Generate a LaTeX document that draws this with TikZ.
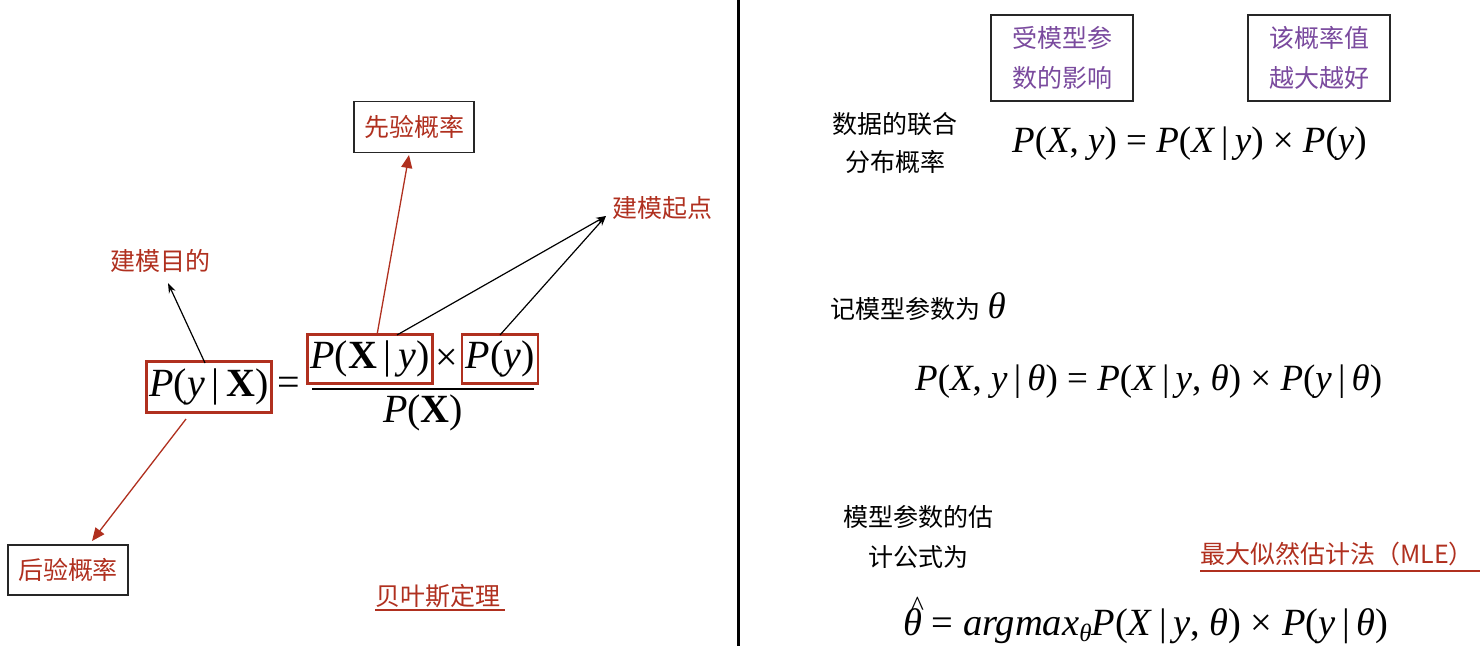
\documentclass[tikz,border=0pt]{standalone}
\usepackage{fontspec}
\setmainfont{Liberation Serif}
\newfontfamily\cjk{Noto Sans CJK SC}
\usetikzlibrary{arrows.meta}
\definecolor{sred}{HTML}{B0301F}
\definecolor{spurple}{HTML}{7A4A9E}
\newcommand{\fsz}[1]{\fontsize{#1}{\dimexpr #1pt*5/4\relax}\selectfont}
\tikzset{
  cjklabel/.style={font=\cjk\fsz{25}, inner sep=0pt},
  redlabel/.style={cjklabel, text=sred},
  sketchbox/.style={draw=black!85, line width=1.8pt},
  formbox/.style={draw=sred, line width=2.2pt, inner xsep=3pt, inner ysep=3pt},
  mathtxt/.style={font=\fsz{40}, inner sep=0pt},
  rmath/.style={font=\fsz{37}, inner sep=0pt, anchor=base west},
  blackarrow/.style={-{Stealth[length=10pt,width=7pt]}, line width=1.2pt, black},
  redarrow/.style={-{Triangle[length=13pt,width=11pt]}, line width=1.3pt, sred},
  uline/.style={draw=sred, line width=1.4pt}
}
\begin{document}
\begin{tikzpicture}[x=1pt,y=-1pt]
\useasboundingbox (0,0) rectangle (1484,646);
\fill[white] (0,0) rectangle (1484,646);
% divider
\draw[line width=3pt] (738,0) -- (738,646);

% ---- left: Bayes formula ----
\node[mathtxt, formbox, minimum width=122pt, minimum height=51pt] (pyx) at (209,387) {\textit{P}(\textit{y}\,|\,\textbf{X})};
\node[mathtxt] (eq) at (289,386) {=};
\node[mathtxt, formbox, minimum width=121pt, minimum height=49pt] (num1) at (370,359) {\textit{P}(\textbf{X}\,|\,\textit{y})};
\node[mathtxt] (times) at (447,360) {×};
\node[mathtxt, formbox, minimum width=76pt, minimum height=49pt] (num2) at (500,359) {\textit{P}(\textit{y})};
\coordinate (fracL) at (312,389);
\coordinate (fracR) at (534,389);
\draw[line width=2.2pt] (fracL) -- (fracR);
\node[mathtxt] (den) at (423,413) {\textit{P}(\textbf{X})};

\node[redlabel, sketchbox, minimum width=120pt, minimum height=51pt] (prior) at (414,127) {先验概率};
\node[redlabel, sketchbox, minimum width=120pt, minimum height=50pt] (post) at (68,570) {后验概率};
\node[redlabel] (goal) at (160,261) {建模目的};
\node[redlabel] (start) at (662,208) {建模起点};
\node[redlabel] (bayes) at (438,596) {贝叶斯定理};
\coordinate (bayesL) at (375,610);
\coordinate (bayesR) at (505,610);
\draw[uline] (bayesL) -- (bayesR);

\coordinate (a1) at (205,363);
\coordinate (g1) at (168,283);
\draw[blackarrow] (a1) -- (g1);
\coordinate (p1) at (186,419);
\coordinate (p2) at (92,541);
\draw[redarrow] (p1) -- (p2);
\coordinate (n1) at (377,335);
\coordinate (q1) at (409,155);
\draw[redarrow] (n1) -- (q1);
\coordinate (n2) at (397,335);
\coordinate (n3) at (500,335);
\coordinate (s1) at (606,216);
\draw[blackarrow] (n2) -- (s1);
\draw[blackarrow] (n3) -- (s1);

% ---- right ----
\node[cjklabel, sketchbox, text=spurple, align=center, minimum width=142pt, minimum height=86pt] (inf) at (1062,58) {受模型参\\[8pt]数的影响};
\node[cjklabel, sketchbox, text=spurple, align=center, minimum width=142pt, minimum height=86pt] (big) at (1319,58) {该概率值\\[8pt]越大越好};

\node[cjklabel, align=center] (joint) at (895,143) {数据的联合\\[6pt]分布概率};
\node[rmath] (f1) at (1012,152) {\textit{P}(\textit{X}, \textit{y}) = \textit{P}(\textit{X}\,|\,\textit{y}) × \textit{P}(\textit{y})};

\node[cjklabel, anchor=west] (note) at (830,307) {记模型参数为\hspace{0.3em}{\rmfamily\fsz{37}\textit{θ}}};
\node[rmath] (f2) at (915,390) {\textit{P}(\textit{X}, \textit{y}\,|\,\textit{θ}) = \textit{P}(\textit{X}\,|\,\textit{y}, \textit{θ}) × \textit{P}(\textit{y}\,|\,\textit{θ})};

\node[cjklabel, align=center] (est) at (918,537) {模型参数的估\\[9pt]计公式为};
\node[redlabel, anchor=west] (mle) at (1200,554) {最大似然估计法（MLE）};
\coordinate (mleL) at (1200,571);
\coordinate (mleR) at (1480,571);
\draw[uline] (mleL) -- (mleR);
\node[rmath, font=\fsz{38.5}] (f3) at (903,635) {\rlap{\raisebox{0.5em}{\kern0.2em{\fsz{28}\^{}}}}\textit{θ} = \textit{argmax}{\fsz{25}\raisebox{-0.25em}{\textit{θ}}}\textit{P}(\textit{X}\,|\,\textit{y}, \textit{θ}) × \textit{P}(\textit{y}\,|\,\textit{θ})};
\end{tikzpicture}
\end{document}
